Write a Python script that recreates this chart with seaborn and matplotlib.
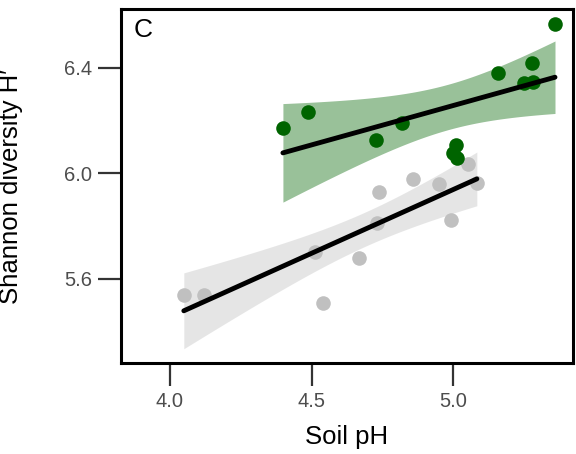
import matplotlib
matplotlib.use("Agg")
import matplotlib.pyplot as plt
import numpy as np
import pandas as pd
import seaborn as sns

# Values
green_ph = [5.360, 5.280, 5.160, 5.252, 5.284, 4.489, 4.399, 4.820, 4.729, 5.010, 4.999, 5.013]
green_h = [6.566, 6.419, 6.381, 6.344, 6.347, 6.234, 6.173, 6.190, 6.125, 6.107, 6.076, 6.057]
grey_ph = [4.049, 4.119, 4.540, 4.511, 4.669, 4.730, 4.739, 4.860, 4.951, 4.991, 5.052, 5.084]
grey_h = [5.540, 5.540, 5.509, 5.703, 5.678, 5.813, 5.929, 5.978, 5.958, 5.824, 6.035, 5.962]

x_ticks = [4.0, 4.5, 5.0]
y_ticks = [5.6, 6.0, 6.4]


def conf_band(x, y, xs, t=2.228):
    """95% confidence band of a least squares fit (t for df = 10)"""
    x = np.asarray(x)
    y = np.asarray(y)
    n = len(x)
    b, a = np.polyfit(x, y, 1)
    resid = y - (a + b * x)
    s = np.sqrt(np.sum(resid ** 2) / (n - 2))
    sxx = np.sum((x - x.mean()) ** 2)
    fit = a + b * xs
    half = t * s * np.sqrt(1 / n + (xs - x.mean()) ** 2 / sxx)
    return fit - half, fit + half


sns.set_style("white")
plt.rcParams["font.family"] = ["Liberation Sans", "DejaVu Sans"]

fig = plt.figure(figsize=(5.76, 4.54), dpi=100)
ax = fig.add_axes([0.21, 0.2004, 0.785, 0.780])

for xv, yv, col in [(grey_ph, grey_h, "silver"), (green_ph, green_h, "darkgreen")]:
    df = pd.DataFrame({"ph": xv, "h": yv})
    xs = np.linspace(min(xv), max(xv), 100)
    lo, hi = conf_band(xv, yv, xs)
    ax.fill_between(xs, lo, hi, color=col, alpha=0.4, linewidth=0, zorder=0.5)
    sns.regplot(data=df, x="ph", y="h", ax=ax, color=col, ci=None,
                scatter_kws={"s": 110, "alpha": 1, "linewidths": 0},
                line_kws={"color": "black", "lw": 3.5})

ax.set_xlim(3.827, 5.424)
ax.set_ylim(5.281, 6.623)
ax.set_xticks(x_ticks)
ax.set_yticks(y_ticks)
ax.set_xticklabels([f"{t:.1f}" for t in x_ticks])
ax.set_yticklabels([f"{t:.1f}" for t in y_ticks])
ax.tick_params(axis="both", direction="out", length=16.5, width=1.6,
               color="#333333", labelcolor="#4d4d4d", labelsize=14.5, pad=4.5,
               left=True, bottom=True)

for s in ax.spines.values():
    s.set_color("black")
    s.set_linewidth(2.2)

ax.set_xlabel("Soil pH", fontsize=18.5, labelpad=10, color="black")
ax.set_ylabel("Shannon diversity H\u2032", fontsize=18.5, labelpad=29, color="black")
ax.text(0.027, 0.975, "C", transform=ax.transAxes, fontsize=19, va="top", ha="left",
        color="black")

fig.savefig("out.png", dpi=100)
